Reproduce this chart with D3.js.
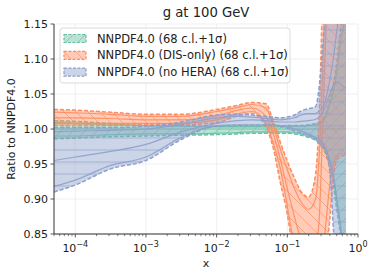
<!DOCTYPE html>
<html><head><meta charset="utf-8">
<script src="https://cdn.jsdelivr.net/npm/d3@7"></script>
<style>body{margin:0;background:#fff}svg{display:block;font-family:"DejaVu Sans",sans-serif}</style>
</head><body>
<svg id="c" width="374" height="275"></svg>
<script>
// ---- data ----
const xs = [5e-5,1e-4,3.16e-4,1e-3,3.16e-3,1e-2,0.02,0.0316,0.05,0.063,0.079,0.1,0.126,0.158,0.2,0.251,0.282,0.316,0.355,0.398,0.447,0.501,0.562,0.631,0.676];

const gC    = [1,1,1,1,1,1,1,1,1,1,1,1,1,1,1,1,1,1,1,1,1,1,1,1,1];
const gHi68 = [1.012,1.011,1.008,1.006,1.005,1.004,1.004,1.004,1.004,1.004,1.004,1.005,1.005,1.005,1.006,1.008,1.010,1.013,1.025,1.042,1.062,1.095,1.14,1.17,1.20];
const gLo68 = [0.986,0.987,0.989,0.990,0.991,0.992,0.993,0.994,0.994,0.994,0.994,0.994,0.993,0.991,0.988,0.984,0.980,0.972,0.962,0.945,0.920,0.885,0.850,0.80,0.77];
const gHi1s = [1.009,1.008,1.006,1.005,1.004,1.003,1.003,1.003,1.003,1.003,1.003,1.004,1.004,1.004,1.005,1.006,1.008,1.010,1.020,1.035,1.053,1.082,1.12,1.15,1.17];
const gLo1s = [0.990,0.990,0.992,0.993,0.993,0.994,0.995,0.996,0.996,0.996,0.996,0.996,0.995,0.993,0.991,0.988,0.985,0.978,0.970,0.955,0.932,0.900,0.865,0.82,0.79];

const oC    = [1.016,1.016,1.015,1.013,1.013,1.019,1.027,1.030,1.018,0.994,0.958,0.915,0.875,0.840,0.820,0.830,0.870,1.000,1.150,1.200,1.200,1.200,1.200,1.200,1.200];
const oHi68 = [1.028,1.027,1.024,1.021,1.021,1.028,1.034,1.038,1.036,1.011,0.982,0.954,0.930,0.910,0.903,0.935,1.020,1.200,1.400,1.400,1.400,1.400,1.400,1.400,1.400];
const oLo68 = [1.005,1.005,1.005,1.006,1.006,1.009,1.019,1.022,1.003,0.973,0.925,0.878,0.810,0.750,0.700,0.700,0.720,0.780,0.820,0.870,0.930,0.955,0.960,0.962,0.962];
const oHi1s = [1.024,1.023,1.021,1.018,1.018,1.025,1.031,1.035,1.030,1.005,0.972,0.942,0.915,0.895,0.885,0.900,0.960,1.080,1.250,1.350,1.350,1.350,1.350,1.350,1.350];
const oLo1s = [1.008,1.008,1.008,1.008,1.008,1.013,1.022,1.025,1.008,0.980,0.945,0.890,0.830,0.780,0.740,0.740,0.760,0.820,0.870,0.920,0.950,0.960,0.965,0.965,0.965];

const bC    = [0.955,0.960,0.968,0.978,0.996,1.008,1.012,1.013,1.012,1.011,1.010,1.010,1.010,1.011,1.012,1.014,1.017,1.024,1.035,1.050,1.062,1.067,1.065,1.060,1.058];
const bHi68 = [1.002,1.002,1.002,1.004,1.010,1.020,1.021,1.020,1.018,1.017,1.016,1.017,1.020,1.026,1.029,1.032,1.060,1.115,1.180,1.250,1.300,1.350,1.350,1.350,1.350];
const bLo68 = [0.910,0.920,0.943,0.955,0.985,1.004,1.005,1.005,1.005,1.005,1.004,1.001,0.997,0.994,0.990,0.985,0.980,0.975,0.965,0.940,0.860,0.750,0.650,0.600,0.580];
const bHi1s = [0.996,0.997,0.998,1.000,1.007,1.016,1.018,1.017,1.015,1.014,1.013,1.014,1.016,1.020,1.022,1.022,1.026,1.030,1.045,1.070,1.100,1.140,1.170,1.190,1.200];
const bLo1s = [0.918,0.927,0.948,0.960,0.988,1.005,1.006,1.006,1.006,1.006,1.005,1.003,1.000,0.997,0.993,0.988,0.985,0.980,0.970,0.955,0.935,0.900,0.860,0.820,0.800];

const seriesNames = ["NNPDF4.0 (68 c.l.+1σ)","NNPDF4.0 (DIS-only) (68 c.l.+1σ)","NNPDF4.0 (no HERA) (68 c.l.+1σ)"];
const colors = ["#66c2a5","#fc8d62","#8da0cb"];
const hatches = ["fwd","back","horiz"];
const yTicks = [0.85,0.90,0.95,1.00,1.05,1.10,1.15];
const xTicks = [1e-4,1e-3,1e-2,1e-1,1];
const xTickExp = ["−4","−3","−2","−1","0"];
const titleText = "g at 100 GeV";
const xLabel = "x";
const yLabel = "Ratio to NNPDF4.0";

const series = [
  {c:gC,hi:gHi68,lo:gLo68,hs:gHi1s,ls:gLo1s},
  {c:oC,hi:oHi68,lo:oLo68,hs:oHi1s,ls:oLo1s},
  {c:bC,hi:bHi68,lo:bLo68,hs:bHi1s,ls:bLo1s}
];

// ---- layout ----
const m = {l:54, r:358, t:24, b:234};
const x = d3.scaleLog().domain([5e-5,1]).range([m.l,m.r]);
const y = d3.scaleLinear().domain([0.85,1.15]).range([m.b,m.t]);
const svg = d3.select("#c");
const defs = svg.append("defs");
defs.append("clipPath").attr("id","clip").append("rect")
  .attr("x",m.l).attr("y",m.t).attr("width",m.r-m.l).attr("height",m.b-m.t);

function mkPattern(id,kind,color){
  const p = defs.append("pattern").attr("id",id).attr("patternUnits","userSpaceOnUse")
    .attr("width",12).attr("height",12);
  let d;
  if(kind==="fwd") d="M0,12L12,0M-3,3L3,-3M9,15L15,9";
  else if(kind==="back") d="M0,0L12,12M-3,9L3,15M9,-3L15,3";
  else d="M0,6L12,6";
  p.append("path").attr("d",d).attr("stroke",color).attr("stroke-width",0.8).attr("fill","none").attr("opacity",0.8);
}
colors.forEach((c,i)=>mkPattern("h"+i,hatches[i],c));

// grid
const grid = svg.append("g");
yTicks.forEach(v=>grid.append("line").attr("x1",m.l).attr("x2",m.r).attr("y1",y(v)).attr("y2",y(v))
  .attr("stroke","#ebebeb").attr("stroke-width",0.8));
xTicks.forEach(v=>grid.append("line").attr("y1",m.t).attr("y2",m.b).attr("x1",x(v)).attr("x2",x(v))
  .attr("stroke","#ebebeb").attr("stroke-width",0.8));

// bands
const plot = svg.append("g").attr("clip-path","url(#clip)");
const curve = d3.curveMonotoneX;
series.forEach((s,i)=>{
  const idx = d3.range(xs.length);
  const area = d3.area().curve(curve).x(j=>x(xs[j])).y0(j=>y(s.lo[j])).y1(j=>y(s.hi[j]));
  const line = arr => d3.line().curve(curve).x(j=>x(xs[j])).y(j=>y(arr[j]))(idx);
  const g = plot.append("g");
  g.append("path").attr("d",area(idx)).attr("fill",colors[i]).attr("fill-opacity",0.45);
  g.append("path").attr("d",area(idx)).attr("fill","url(#h"+i+")");
  [s.hi,s.lo].forEach(a=>g.append("path").attr("d",line(a)).attr("fill","none")
    .attr("stroke",colors[i]).attr("stroke-width",1.5).attr("stroke-dasharray","4,2"));
  [s.hs,s.ls,s.c].forEach(a=>g.append("path").attr("d",line(a)).attr("fill","none")
    .attr("stroke",colors[i]).attr("stroke-width",1.2).attr("stroke-opacity",0.9));
});

// axes
const ax = svg.append("g").attr("transform",`translate(0,${m.b})`);
ax.append("line").attr("x1",m.l).attr("x2",m.r).attr("stroke","#333").attr("stroke-width",1);
const minor = [];
for(let e=-5;e<0;e++) for(let k=2;k<=9;k++){ const v=k*Math.pow(10,e); if(v>=5e-5&&v<=1) minor.push(v); }
minor.forEach(v=>ax.append("line").attr("x1",x(v)).attr("x2",x(v)).attr("y1",0).attr("y2",2.2).attr("stroke","#333").attr("stroke-width",0.6));
xTicks.forEach((v,i)=>{
  ax.append("line").attr("x1",x(v)).attr("x2",x(v)).attr("y1",0).attr("y2",3.5).attr("stroke","#333").attr("stroke-width",0.8);
  const t = ax.append("text").attr("x",x(v)).attr("y",17.5).attr("text-anchor","middle").attr("font-size",11).attr("fill","#222");
  t.append("tspan").text("10");
  t.append("tspan").attr("dy",-4.5).attr("font-size",8).text(xTickExp[i]);
});
const ay = svg.append("g");
ay.append("line").attr("x1",m.l).attr("x2",m.l).attr("y1",m.t).attr("y2",m.b).attr("stroke","#333").attr("stroke-width",1);
yTicks.forEach(v=>{
  ay.append("line").attr("x1",m.l-3.5).attr("x2",m.l).attr("y1",y(v)).attr("y2",y(v)).attr("stroke","#333").attr("stroke-width",0.8);
  ay.append("text").attr("x",m.l-6).attr("y",y(v)).attr("dy","0.36em").attr("text-anchor","end")
    .attr("font-size",11).attr("fill","#222").text(d3.format(".2f")(v));
});

// labels
svg.append("text").attr("x",(m.l+m.r)/2).attr("y",17).attr("text-anchor","middle").attr("font-size",13.2).attr("fill","#222").text(titleText);
svg.append("text").attr("x",(m.l+m.r)/2).attr("y",267).attr("text-anchor","middle").attr("font-size",11).attr("fill","#222").text(xLabel);
svg.append("text").attr("transform",`translate(15,${(m.t+m.b)/2}) rotate(-90)`).attr("text-anchor","middle")
  .attr("font-size",11).attr("fill","#222").text(yLabel);

// legend
const lg = svg.append("g");
lg.append("rect").attr("x",60).attr("y",28).attr("width",230).attr("height",55).attr("rx",3)
  .attr("fill","#fff").attr("fill-opacity",0.8).attr("stroke","#d0d0d0").attr("stroke-width",0.8);
seriesNames.forEach((n,i)=>{
  const cy = 38.5+i*16.8;
  const r = lg.append("g");
  r.append("rect").attr("x",64).attr("y",cy-4).attr("width",22).attr("height",8).attr("fill",colors[i]).attr("fill-opacity",0.45);
  r.append("rect").attr("x",64).attr("y",cy-4).attr("width",22).attr("height",8).attr("fill","url(#h"+i+")")
    .attr("stroke",colors[i]).attr("stroke-width",1.2).attr("stroke-dasharray","3,1.5");
  r.append("text").attr("x",97).attr("y",cy).attr("dy","0.36em").attr("font-size",11.5).attr("fill","#222").text(n);
});
</script>
</body></html>
